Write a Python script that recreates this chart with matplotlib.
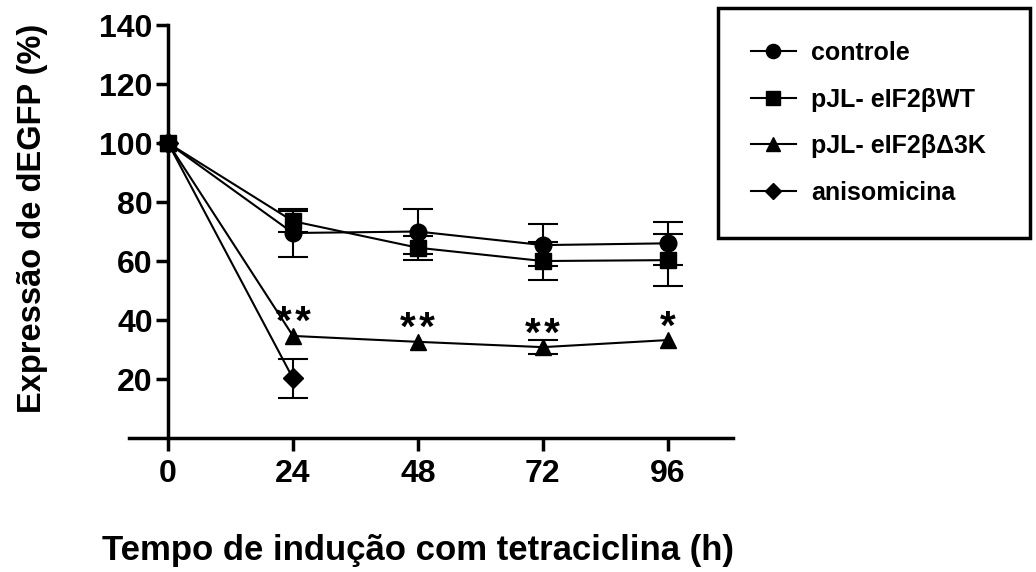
import matplotlib
matplotlib.use('Agg')
from matplotlib import pyplot as plt
from matplotlib.lines import Line2D

plt.rcParams['font.family'] = ['Liberation Sans', 'DejaVu Sans']
plt.rcParams['font.weight'] = 'bold'

# dados
tempo = [0, 24, 48, 72, 96]
controle = [100, 69.5, 70.0, 65.4, 66.0]
controle_err = [0, 8.0, 7.7, 7.0, 7.2]
wt = [100, 73.5, 64.5, 60.0, 60.3]
wt_err = [0, 3.5, 4.0, 6.5, 8.8]
delta3k = [100, 34.6, 32.6, 30.8, 33.2]
delta3k_err = [0, 0, 0, 2.4, 0]
tempo_aniso = [0, 24]
aniso = [100, 20.2]
aniso_err = [0, 6.6]

sig_x = [24, 48, 72, 96]
sig_txt = ['*\u200a*', '*\u200a*', '*\u200a*', '*']
sig_base = [34.6, 32.6, 30.8, 33.2]

labels = ['controle', 'pJL- eIF2βWT', 'pJL- eIF2βΔ3K', 'anisomicina']

fig = plt.figure(figsize=(10.36, 5.72), dpi=100)
ax = fig.add_axes([0.112, 0.2085, 0.628, 0.758])

series = [(tempo, controle, controle_err, 'o', 12),
          (tempo, wt, wt_err, 's', 11.5),
          (tempo, delta3k, delta3k_err, '^', 12),
          (tempo_aniso, aniso, aniso_err, 'D', 10)]
handles = []
for (X, Y, E, m, ms), lab in zip(series, labels):
    # barras de erro só onde há erro
    ax.errorbar([x for x, e in zip(X, E) if e > 0],
                [y for y, e in zip(Y, E) if e > 0],
                yerr=[e for e in E if e > 0], fmt='none', ecolor='black',
                elinewidth=1.5, capsize=11, capthick=1.5, clip_on=False)
    ax.plot(X, Y, color='black', marker=m, markersize=ms, linewidth=1.5,
            clip_on=False)
    handles.append(Line2D([], [], color='black', marker=m,
                          markersize=ms * 0.85, linewidth=1.5))

for x, t, b in zip(sig_x, sig_txt, sig_base):
    ax.text(x, b + 0.5, t, ha='center', va='baseline', fontsize=29,
            fontweight='bold')

ax.set_xlim(-10, 115)
ax.set_ylim(-5, 142)
for s in ['top', 'right']:
    ax.spines[s].set_visible(False)
ax.spines['left'].set_position(('data', 0))
ax.spines['bottom'].set_position(('data', 0))
ax.spines['left'].set_bounds(0, 140)
ax.spines['bottom'].set_bounds(-7.5, 108.5)
for s in ['left', 'bottom']:
    ax.spines[s].set_linewidth(2.5)
ax.set_xticks(tempo)
ax.set_yticks([20, 40, 60, 80, 100, 120, 140])
ax.tick_params(axis='both', width=2.5, length=9, labelsize=23)
ax.tick_params(axis='y', pad=2)
ax.tick_params(axis='x', pad=6)
ax.set_xlabel('Tempo de indução com tetraciclina (h)', fontsize=25,
              fontweight='bold')
ax.xaxis.set_label_coords(0.464, -0.188)
ax.set_ylabel('Expressão de dEGFP (%)', fontsize=23.5, fontweight='bold')
ax.yaxis.set_label_coords(-0.105, 0.54)

leg = fig.legend(handles=handles, labels=labels, loc='upper left',
                 bbox_to_anchor=(0.693, 0.588, 0.301, 0.398), mode='expand',
                 borderaxespad=0, fontsize=18, handlelength=1.8,
                 handletextpad=0.62, labelspacing=0.9, borderpad=1.32,
                 fancybox=False, edgecolor='black', framealpha=1)
leg.get_frame().set_linewidth(2.5)

plt.savefig('out.png', dpi=100)
